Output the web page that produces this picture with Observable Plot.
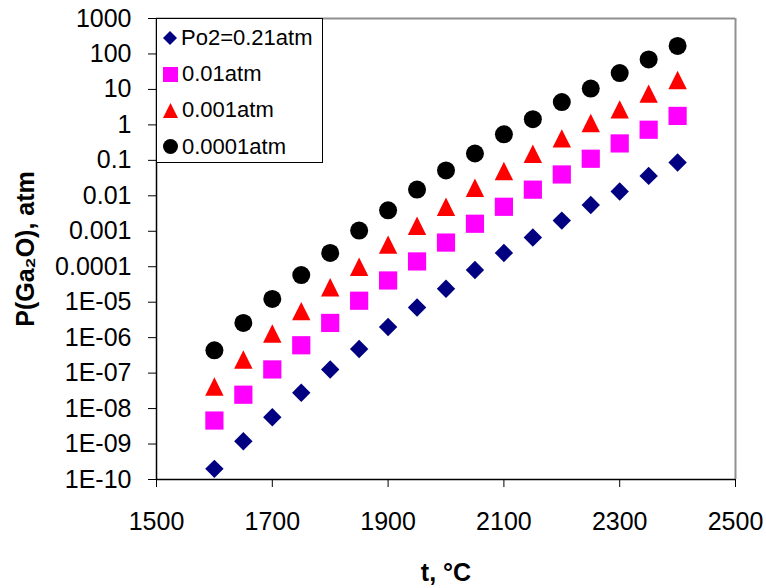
<!DOCTYPE html>
<html><head><meta charset="utf-8">
<script src="https://cdn.jsdelivr.net/npm/d3@7"></script>
<script src="https://cdn.jsdelivr.net/npm/@observablehq/plot@0.6"></script>
<style>
body{margin:0;background:#fff;}
#wrap{position:relative;width:766px;height:588px;font-family:"Liberation Sans",Arial,sans-serif;}
#legend{position:absolute;left:156px;top:18px;width:167px;height:145px;border:1px solid #000;background:#fff;box-sizing:border-box;font-size:22px;color:#000;}
.row{position:absolute;left:0;height:30px;display:flex;align-items:center;}
.row svg{margin-left:6px;margin-right:4px;}
</style></head><body><div id="wrap"><div id="legend"></div></div>
<script>
const temps = [1600,1650,1700,1750,1800,1850,1900,1950,2000,2050,2100,2150,2200,2250,2300,2350,2400];
const seriesNames = ["Po2=0.21atm","0.01atm","0.001atm","0.0001atm"];
const p021 = [2.0e-10,1.2e-9,5.7e-9,2.8e-8,1.26e-7,4.8e-7,2.0e-6,7.1e-6,2.4e-5,8.1e-5,2.45e-4,6.7e-4,2.0e-3,5.5e-3,0.0132,0.0364,0.087];
const p001 = [4.6e-9,2.46e-8,1.27e-7,6.1e-7,2.6e-6,1.1e-5,4.1e-5,1.41e-4,4.8e-4,1.63e-3,4.9e-3,0.0149,0.040,0.111,0.30,0.73,1.79];
const p0001 = [4.2e-8,2.43e-7,1.31e-6,5.6e-6,2.64e-5,1.0e-4,4.2e-4,1.43e-3,4.9e-3,0.0169,0.05,0.154,0.416,1.13,2.73,7.6,18.4];
const p00001 = [4.4e-7,2.6e-6,1.24e-5,5.8e-5,2.45e-4,1.05e-3,3.9e-3,0.015,0.052,0.156,0.54,1.45,4.4,10.6,29,70,169];
const xTicks = [1500,1700,1900,2100,2300,2500];
const yTickExps = [-10,-9,-8,-7,-6,-5,-4,-3,-2,-1,0,1,2,3];
const yTickLabels = ["1E-10","1E-09","1E-08","1E-07","1E-06","1E-05","0.0001","0.001","0.01","0.1","1","10","100","1000"];
const xTitle = "t, °C";
const yTitle = "P(Ga₂O), atm";
const colors = ["#000080","#FF00FF","#FF0000","#000000"];

const half = s => Math.sqrt(s/Math.PI);
const diamondSym = {draw(c,s){const r=half(s);c.moveTo(0,-r);c.lineTo(r,0);c.lineTo(0,r);c.lineTo(-r,0);c.closePath();}};
const squareSym = {draw(c,s){const r=half(s);c.moveTo(-r,-r);c.lineTo(r,-r);c.lineTo(r,r);c.lineTo(-r,r);c.closePath();}};
const triSym = {draw(c,s){const r=half(s);c.moveTo(0,-r);c.lineTo(r,r);c.lineTo(-r,r);c.closePath();}};
const circSym = {draw(c,s){const r=half(s);c.moveTo(r,0);c.arc(0,0,r,0,2*Math.PI);c.closePath();}};
const symbols = [diamondSym, squareSym, triSym, circSym];
const seriesVals = [p021, p001, p0001, p00001];
const radii = [9.2, 9.1, 9.2, 9];

const yTicks = yTickExps.map(e => Math.pow(10, e));
const yLab = new Map(yTickExps.map((e,i)=>[e, yTickLabels[i]]));

const dotMarks = seriesVals.map((vals, k) =>
  Plot.dot(temps.map((t,i)=>({t, p: vals[i]})), {x:"t", y:"p", symbol: symbols[k], r: radii[k], fill: colors[k], stroke: "none"})
);

const chart = Plot.plot({
  width: 766, height: 588,
  marginLeft: 156, marginRight: 31, marginTop: 18, marginBottom: 109,
  style: {fontFamily: "'Liberation Sans', Arial, sans-serif", fontSize: "25px", background: "#fff", color: "#000"},
  x: {domain: [1500, 2500]},
  y: {type: "log", domain: [1e-10, 1000]},
  marks: [
    Plot.ruleY([1000], {stroke: "#909090", strokeWidth: 2}),
    Plot.ruleX([2500], {stroke: "#909090", strokeWidth: 2}),
    ...dotMarks,
    Plot.ruleX([1500], {stroke: "#000", strokeWidth: 1.5}),
    Plot.ruleY([1e-10], {stroke: "#000", strokeWidth: 1.5}),
    Plot.axisX(xTicks, {tickSize: 8, tickPadding: 25, fontSize: 25, label: null, tickFormat: d => String(d)}),
    Plot.axisY(yTicks, {tickSize: 8, tickPadding: 17, fontSize: 25, label: null, tickFormat: d => yLab.get(Math.round(Math.log10(d)))}),
    Plot.text([yTitle], {frameAnchor: "left", dx: -131, rotate: -90, fontWeight: "bold", fontSize: 25, lineAnchor: "middle", textAnchor: "middle"}),
    Plot.text([xTitle], {frameAnchor: "bottom", dy: 93, fontWeight: "bold", fontSize: 25, lineAnchor: "middle", textAnchor: "middle"})
  ]
});
const wrap = document.getElementById("wrap");
wrap.insertBefore(chart, wrap.firstChild);

const legend = document.getElementById("legend");
const legSyms = [
  '<polygon points="7,0 14,7 7,14 0,7"/>',
  '<rect x="0" y="0" width="15" height="15"/>',
  '<polygon points="7.5,0 15,15 0,15"/>',
  '<circle cx="7.5" cy="7.5" r="7.5"/>'
];
const legSize = [14, 15, 15, 15];
seriesNames.forEach((name, k) => {
  const row = document.createElement("div");
  row.className = "row";
  row.style.top = (3.7 + 36.3*k) + "px";
  row.innerHTML = `<svg width="${legSize[k]}" height="${legSize[k]}" style="fill:${colors[k]}">${legSyms[k]}</svg><span>${name}</span>`;
  legend.appendChild(row);
});
</script>
</body></html>
